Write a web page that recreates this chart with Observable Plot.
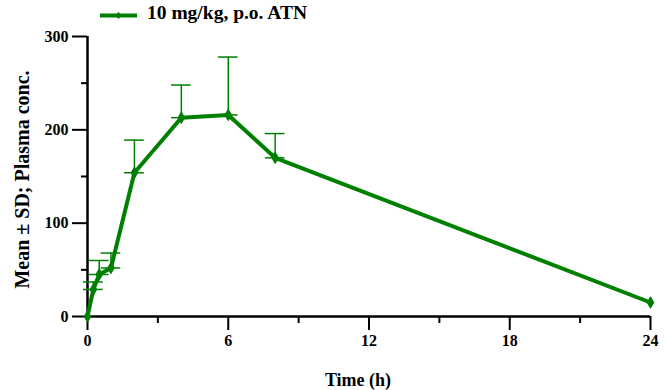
<!DOCTYPE html>
<html>
<head>
<meta charset="utf-8">
<script src="https://cdn.jsdelivr.net/npm/d3@7"></script>
<script src="https://cdn.jsdelivr.net/npm/@observablehq/plot@0.6"></script>
<style>
  html, body { margin: 0; padding: 0; background: #fff; }
  #wrap { width: 666px; height: 390px; position: relative; font-family: "Liberation Serif", "Times New Roman", serif; }
  #legend { height: 26px; position: relative; }
  #legend svg { position: absolute; left: 95px; top: 6px; }
  #legend span { position: absolute; left: 147px; top: 2px; font-size: 19.5px; font-weight: bold; color: #000; }
  #chart svg { display: block; }
</style>
</head>
<body>
<div id="wrap">
  <div id="legend">
    <svg width="48" height="20"><line x1="5" y1="9.5" x2="42" y2="9.5" stroke="#008000" stroke-width="4"/><path d="M23.5 6 L26.5 9.5 L23.5 13 L20.5 9.5 Z" fill="#008000"/></svg>
    <span>10 mg/kg, p.o. ATN</span>
  </div>
  <div id="chart"></div>
</div>
<script>
const times = [0, 0.25, 0.5, 1, 2, 4, 6, 8, 24];
const means = [0, 29, 45, 52, 154, 213, 216, 170, 15];
const sds   = [0, 8, 15, 16, 35, 35, 62, 26, 0];
const xTicks = [0, 6, 12, 18, 24];
const xMinorTicks = [3, 9, 15, 21];
const yTicks = [0, 100, 200, 300];
const yMinorTicks = [50, 150, 250];
const seriesLabel = "10 mg/kg, p.o. ATN";
const xLabel = "Time (h)";
const yLabel = "Mean ± SD; Plasma conc.";

const green = "#008000";
const data = times.map((t, i) => ({t, mean: means[i], sd: sds[i], top: means[i] + sds[i]}));
const bars = data.filter(d => d.sd > 0);
const capHalf = 0.42; // hours, half-width of error-bar caps

const font = "'Liberation Serif', 'Times New Roman', serif";

const chart = Plot.plot({
  width: 666,
  height: 364,
  marginTop: 10,
  marginLeft: 87,
  marginRight: 16,
  marginBottom: 74,
  style: {fontFamily: font, background: "#fff", overflow: "visible"},
  x: {domain: [0, 24]},
  y: {domain: [0, 300]},
  marks: [
    Plot.axisY({ticks: yTicks, tickSize: 15, tickPadding: 4, fontFamily: font, fontSize: 16, fontWeight: "bold", strokeWidth: 2, label: null, fill: "#000"}),
    Plot.axisY({ticks: yMinorTicks, tickSize: 6, text: null, strokeWidth: 2, label: null}),
    Plot.axisX({ticks: xTicks, tickSize: 14, tickPadding: 4, fontFamily: font, fontSize: 16, fontWeight: "bold", strokeWidth: 2, label: null, fill: "#000"}),
    Plot.axisX({ticks: xMinorTicks, tickSize: 7, text: null, strokeWidth: 2, label: null}),
    Plot.ruleX([0], {y1: 0, y2: 300, strokeWidth: 2.5}),
    Plot.ruleY([0], {x1: 0, x2: 24, strokeWidth: 2.5}),
    Plot.ruleX(bars, {x: "t", y1: "mean", y2: "top", stroke: green, strokeWidth: 1.5}),
    Plot.ruleY(bars, {y: "top", x1: d => d.t - capHalf, x2: d => d.t + capHalf, stroke: green, strokeWidth: 1.5}),
    Plot.ruleY(bars, {y: "mean", x1: d => d.t - capHalf, x2: d => d.t + capHalf, stroke: green, strokeWidth: 1.5}),
    Plot.line(data, {x: "t", y: "mean", stroke: green, strokeWidth: 4, strokeLinejoin: "round"}),
    Plot.dot(data, {x: "t", y: "mean", symbol: "diamond", r: 3.5, fill: green, stroke: green, strokeWidth: 1}),
    Plot.text([yLabel], {frameAnchor: "left", rotate: -90, dx: -65, dy: 3, textAnchor: "middle", lineAnchor: "middle", fontFamily: font, fontSize: 20, fontWeight: "bold", fill: "#000"}),
    Plot.text([xLabel], {frameAnchor: "bottom", dy: 64, dx: -11, textAnchor: "middle", lineAnchor: "middle", fontFamily: font, fontSize: 18, fontWeight: "bold", fill: "#000"})
  ]
});
document.getElementById("chart").appendChild(chart);
</script>
</body>
</html>
